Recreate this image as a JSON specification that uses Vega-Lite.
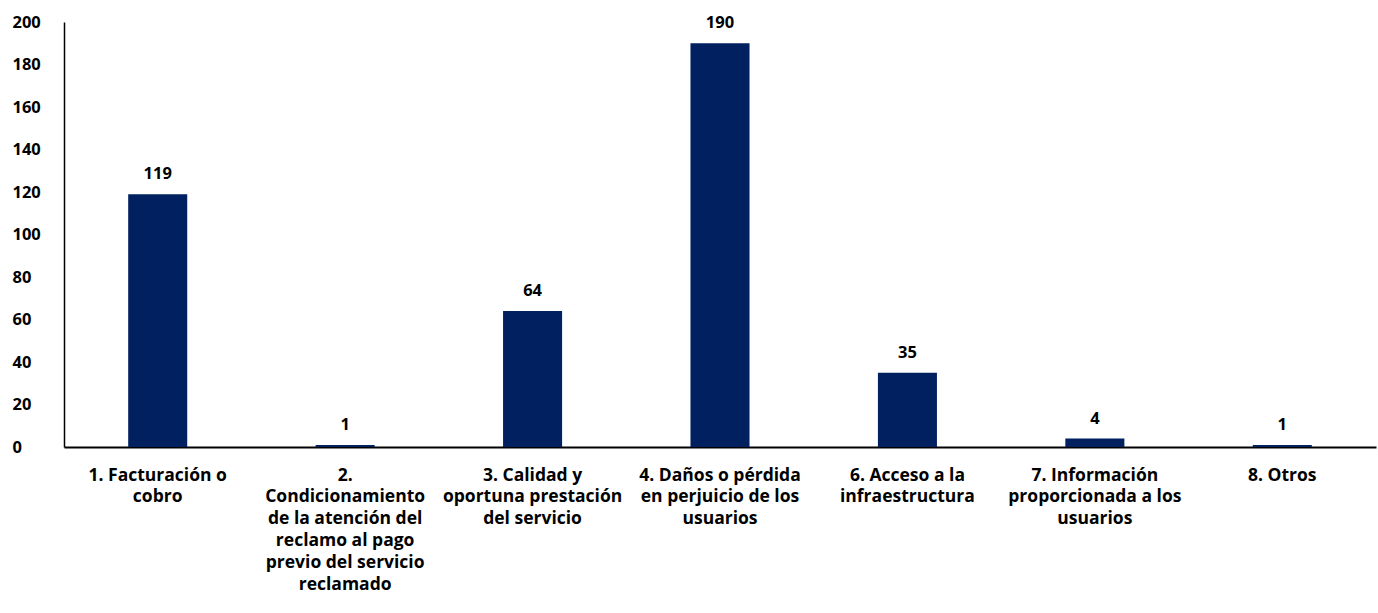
{
  "$schema": "https://vega.github.io/schema/vega-lite/v6.json",
  "width": 1312,
  "height": 425,
  "autosize": {"type": "none"},
  "padding": {"left": 64, "top": 22, "right": 2, "bottom": 166},
  "background": "white",
  "config": {"view": {"stroke": null}, "font": "Open Sans"},
  "data": {"values": [
    {"cat": "1. Facturación o|cobro", "value": 119},
    {"cat": "2.|Condicionamiento|de la atención del|reclamo al pago|previo del servicio|reclamado", "value": 1},
    {"cat": "3. Calidad y|oportuna prestación|del servicio", "value": 64},
    {"cat": "4. Daños o pérdida|en perjuicio de los|usuarios", "value": 190},
    {"cat": "6. Acceso a la|infraestructura", "value": 35},
    {"cat": "7. Información|proporcionada a los|usuarios", "value": 4},
    {"cat": "8. Otros", "value": 1}
  ]},
  "encoding": {
    "x": {
      "field": "cat", "type": "nominal", "sort": null,
      "scale": {"paddingInner": 0.685, "paddingOuter": 0.3425},
      "axis": {
        "title": null, "labelAngle": 0, "ticks": false, "labelPadding": 19,
        "labelExpr": "split(datum.value, '|')", "labelLineHeight": 21.8,
        "labelFont": "Open Sans", "labelFontWeight": "bold", "labelFontSize": 17.5,
        "labelColor": "#000000", "domainColor": "#000000", "domainWidth": 2,
        "labelLimit": 0, "labelBaseline": "top"
      }
    },
    "y": {
      "field": "value", "type": "quantitative",
      "scale": {"domain": [0, 200], "nice": false},
      "axis": {
        "title": null, "values": [0,20,40,60,80,100,120,140,160,180,200],
        "grid": false, "ticks": false, "labelAlign": "left", "labelPadding": 52,
        "labelFont": "Open Sans", "labelFontWeight": "bold", "labelFontSize": 16.5,
        "labelColor": "#000000", "domainColor": "#000000", "domainWidth": 1.5
      }
    }
  },
  "layer": [
    {"mark": {"type": "bar", "color": "#002060"}},
    {
      "mark": {"type": "text", "baseline": "bottom", "dy": -12, "font": "Open Sans", "fontWeight": "bold", "fontSize": 16.5, "color": "#000000"},
      "encoding": {"text": {"field": "value", "type": "quantitative"}}
    }
  ]
}
